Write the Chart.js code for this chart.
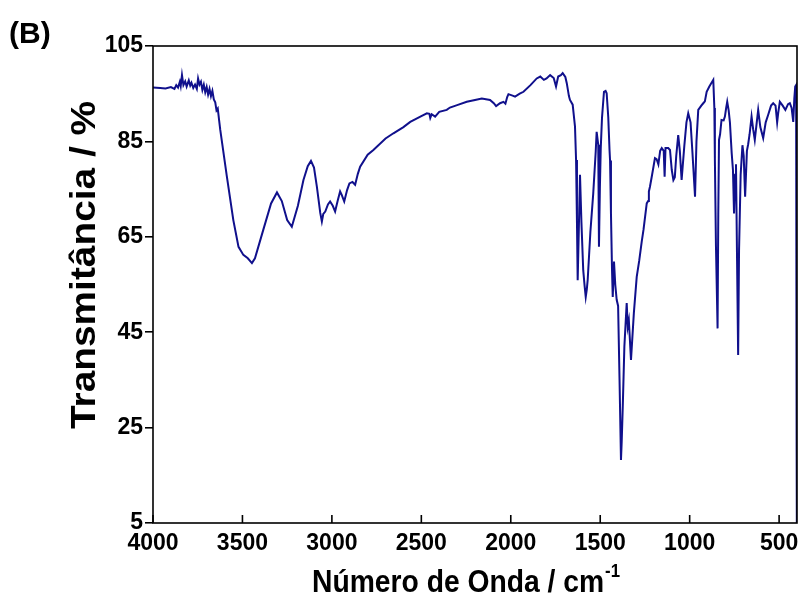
<!DOCTYPE html>
<html>
<head>
<meta charset="utf-8">
<script src="https://cdn.jsdelivr.net/npm/chart.js@4/dist/chart.umd.min.js"></script>
<style>
  html, body { margin: 0; padding: 0; background: #fff; }
  canvas { display: block; }
</style>
</head>
<body>
<canvas id="chart" width="801" height="606"></canvas>
<script>
// FTIR spectrum
var wavenumber = [
  4000, 3960, 3930, 3900, 3880, 3870, 3860, 3850, 3845, 3838, 3830, 3820, 3812, 3800, 3792, 3785,
  3775, 3765, 3755, 3748, 3740, 3732, 3724, 3716, 3708, 3700, 3692, 3684, 3676, 3668, 3660, 3652,
  3645, 3638, 3630, 3624, 3587, 3551, 3522, 3495, 3470, 3447, 3430, 3384, 3340, 3307, 3280, 3250,
  3224, 3190, 3159, 3135, 3117, 3100, 3084, 3065, 3056, 3048, 3037, 3022, 3010, 2995, 2982, 2968,
  2954, 2945, 2931, 2915, 2902, 2885, 2870, 2855, 2842, 2800, 2768, 2700, 2656, 2600, 2562, 2500,
  2469, 2455, 2450, 2442, 2423, 2400, 2358, 2340, 2300, 2246, 2200, 2162, 2116, 2095, 2082, 2060,
  2041, 2030, 2020, 2013, 1990, 1976, 1950, 1929, 1890, 1855, 1835, 1815, 1800, 1780, 1760, 1747,
  1735, 1720, 1710, 1695, 1687, 1675, 1669, 1654, 1641, 1635, 1630, 1626, 1620, 1613, 1605, 1595,
  1587, 1581, 1575, 1570, 1555, 1539, 1525, 1520, 1515, 1511, 1507, 1502, 1497, 1490, 1479, 1470,
  1464, 1455, 1448, 1445, 1440, 1434, 1430, 1423, 1416, 1408, 1400, 1392, 1384, 1380, 1374, 1365,
  1352, 1346, 1340, 1328, 1312, 1296, 1282, 1268, 1258, 1240, 1232, 1228, 1222, 1210, 1194, 1185,
  1175, 1165, 1156, 1145, 1140, 1135, 1120, 1110, 1100, 1091, 1083, 1075, 1064, 1055, 1045, 1030,
  1018, 1008, 995, 985, 970, 962, 952, 935, 924, 915, 905, 890, 868, 862, 859, 853,
  844, 840, 836, 830, 822, 810, 803, 796, 790, 782, 775, 765, 758, 752, 746, 741,
  735, 729, 724, 715, 705, 698, 690, 680, 673, 665, 654, 645, 636, 625, 617, 605,
  589, 575, 561, 545, 533, 520, 511, 505, 496, 480, 465, 450, 440, 430, 421, 415,
  410, 405, 402, 400
];
var transmittance = [
  96.3, 96.2, 96.1, 96.4, 96.0, 96.8, 96.3, 97.5, 96.6, 98.9, 96.8, 97.6, 96.5, 97.8, 96.7, 97.3,
  96.2, 96.9, 96.0, 98.2, 96.9, 97.5, 95.8, 96.9, 95.3, 96.4, 94.8, 96.0, 94.5, 95.6, 93.8, 93.2,
  91.5, 91.9, 89.3, 87.4, 77.6, 68.5, 62.9, 61.2, 60.5, 59.5, 60.5, 66.4, 72.0, 74.3, 72.5, 68.5,
  67.1, 71.5, 76.9, 79.8, 80.9, 79.5, 75.5, 70.0, 68.2, 69.8, 70.3, 71.8, 72.4, 71.5, 70.3, 72.5,
  74.5, 73.8, 72.4, 74.8, 76.2, 76.5, 75.9, 78.2, 79.7, 82.2, 83.2, 85.6, 86.7, 88.0, 89.1, 90.3,
  90.9, 90.8, 89.9, 90.7, 90.2, 91.2, 91.6, 92.1, 92.6, 93.3, 93.7, 94.0, 93.7, 93.0, 92.4, 93.0,
  93.3, 92.9, 94.3, 94.9, 94.6, 94.4, 95.0, 95.4, 96.8, 98.2, 98.6, 97.9, 98.2, 98.9, 98.3, 96.5,
  98.6, 98.9, 99.3, 98.5, 97.2, 94.5, 93.7, 92.7, 88.1, 81.1, 68.0, 55.9, 66.0, 78.0, 68.0, 58.0,
  54.6, 52.4, 54.0, 56.0, 66.0, 74.1, 83.0, 87.0, 85.5, 84.3, 62.9, 75.0, 83.6, 90.0, 95.4, 95.6,
  95.1, 90.0, 83.2, 81.0, 70.0, 58.0, 52.4, 59.8, 55.0, 51.8, 50.5, 35.0, 18.2, 22.0, 29.4, 42.0,
  51.1, 46.2, 47.5, 39.2, 49.0, 56.6, 60.0, 64.0, 66.5, 72.0, 72.5, 74.5, 75.5, 78.0, 81.5, 81.3,
  80.2, 83.0, 83.6, 83.0, 77.6, 83.6, 83.6, 83.2, 79.0, 76.9, 77.5, 82.0, 86.3, 83.0, 76.9, 84.0,
  89.0, 90.9, 89.0, 83.0, 73.4, 85.0, 91.6, 92.5, 93.0, 93.4, 95.4, 96.5, 97.9, 92.0, 81.1, 63.0,
  45.8, 70.0, 85.3, 86.5, 89.5, 89.4, 90.2, 92.0, 93.3, 91.5, 89.0, 82.5, 79.0, 69.9, 78.0, 80.2,
  60.0, 40.2, 62.2, 78.0, 84.2, 82.0, 73.4, 83.0, 84.4, 86.5, 90.2, 87.5, 85.3, 89.0, 91.6, 88.0,
  85.7, 89.0, 90.6, 92.5, 93.0, 92.5, 89.0, 91.0, 93.3, 92.5, 91.6, 92.8, 93.0, 92.0, 89.1, 94.0,
  96.5, 96.8, 20.0, -10.0
];
var xTicks = [4000, 3500, 3000, 2500, 2000, 1500, 1000, 500];
var yTicks = [5, 25, 45, 65, 85, 105];

var points = [];
for (var i = 0; i < wavenumber.length; i++) {
  points.push({x: wavenumber[i], y: transmittance[i]});
}

var FONT = 'Liberation Sans, Arial, sans-serif';
var tickFont = {family: FONT, size: 23, weight: 'bold'};

// draws text so that it spans exactly `len` pixels along its baseline
function fitText(ctx, text, len) {
  var w = ctx.measureText(text).width;
  ctx.save();
  ctx.scale(len / w, 1);
  ctx.fillText(text, -w / 2, 0);
  ctx.restore();
}

// frame, inward x ticks and the titles
var framePlugin = {
  id: 'frame',
  afterDraw: function (chart) {
    var ctx = chart.ctx;
    var a = chart.chartArea;
    var xs = chart.scales.x;
    ctx.save();
    ctx.strokeStyle = '#000';
    ctx.lineWidth = 1.6;
    ctx.strokeRect(a.left, a.top, a.right - a.left, a.bottom - a.top);
    ctx.beginPath();
    for (var i = 0; i < xTicks.length; i++) {
      var px = xs.getPixelForValue(xTicks[i]);
      ctx.moveTo(px, a.bottom);
      ctx.lineTo(px, a.bottom - 8);
    }
    ctx.stroke();

    ctx.fillStyle = '#000';
    ctx.textAlign = 'left';
    ctx.textBaseline = 'alphabetic';
    ctx.font = 'bold 30px ' + FONT;
    ctx.fillText('(B)', 9, 43);

    // y title
    ctx.save();
    ctx.translate(95, 265);
    ctx.rotate(-Math.PI / 2);
    ctx.font = 'bold 35px ' + FONT;
    fitText(ctx, 'Transmitância / %', 328);
    ctx.restore();

    // x title with superscript
    var main = 'Número de Onda / cm';
    var sup = '-1';
    ctx.font = 'bold 32px ' + FONT;
    var w1 = ctx.measureText(main).width;
    ctx.font = 'bold 19px ' + FONT;
    var w2 = ctx.measureText(sup).width;
    var k = 308 / (w1 + w2 + 1);
    ctx.save();
    ctx.translate(466 - 154, 592);
    ctx.scale(k, 1);
    ctx.font = 'bold 32px ' + FONT;
    ctx.fillText(main, 0, 0);
    ctx.font = 'bold 19px ' + FONT;
    ctx.fillText(sup, w1 + 1, -15);
    ctx.restore();
    ctx.restore();
  }
};

var chart = new Chart(document.getElementById('chart'), {
  type: 'line',
  data: {
    datasets: [{
      data: points,
      borderColor: '#10108c',
      borderWidth: 2,
      pointRadius: 0,
      tension: 0,
      fill: false
    }]
  },
  options: {
    responsive: false,
    animation: false,
    layout: {padding: {left: 0, right: 4, top: 46, bottom: 0}},
    plugins: {
      legend: {display: false},
      tooltip: {enabled: false}
    },
    scales: {
      x: {
        type: 'linear',
        reverse: true,
        min: 400,
        max: 4000,
        afterBuildTicks: function (scale) {
          scale.ticks = xTicks.map(function (v) { return {value: v}; });
        },
        afterFit: function (scale) {
          scale.height = 83;
          scale.paddingLeft = 0;
          scale.paddingRight = 0;
        },
        grid: {display: false, drawTicks: false},
        border: {display: false},
        ticks: {
          color: '#000',
          font: tickFont,
          padding: 7,
          maxRotation: 0,
          autoSkip: false,
          callback: function (v) { return String(v); }
        }
      },
      y: {
        min: 5,
        max: 105,
        afterBuildTicks: function (scale) {
          scale.ticks = yTicks.map(function (v) { return {value: v}; });
        },
        afterFit: function (scale) {
          scale.width = 153;
          scale.paddingTop = 0;
          scale.paddingBottom = 0;
        },
        grid: {drawOnChartArea: false, drawTicks: true, tickLength: 8, color: '#000', lineWidth: 1.6},
        border: {display: false},
        ticks: {
          color: '#000',
          font: tickFont,
          padding: 2,
          autoSkip: false,
          callback: function (v) { return String(v); }
        }
      }
    }
  },
  plugins: [framePlugin]
});
</script>
</body>
</html>
